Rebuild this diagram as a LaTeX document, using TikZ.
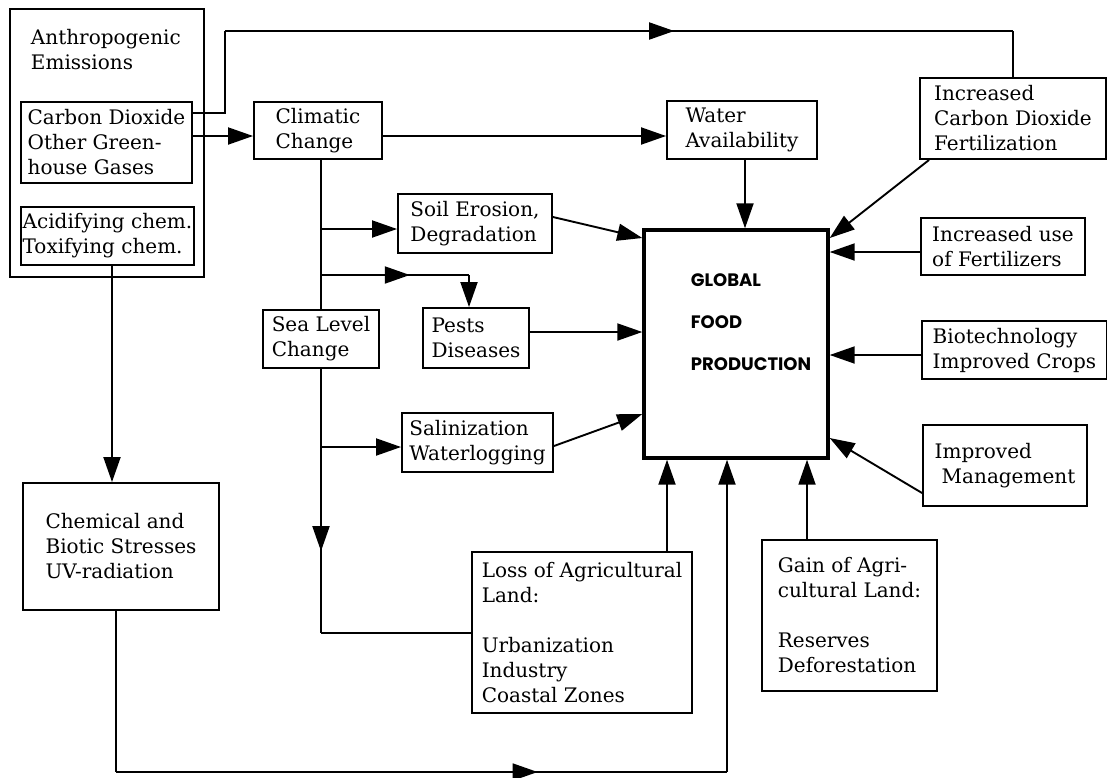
\documentclass[tikz,border=0pt]{standalone}
\usepackage{fontspec}
\setmainfont{DejaVu Serif}
\setsansfont{Poppins}
\usetikzlibrary{arrows.meta,positioning,decorations.markings}

\begin{document}
\begin{tikzpicture}[x=0.5pt,y=-0.5pt,line width=0.95pt,
    font=\fontsize{10}{12.5}\selectfont]
    \tikzset{BoxStyle/.style = {draw,rectangle,align=left,inner sep=2pt}}
    \tikzset{ArrowStyle/.style = {-{Triangle[length=12.5pt,width=8.5pt]}}}
    \tikzset{MidArrowStyle/.style = {postaction={decorate},
        decoration={markings,mark=at position #1 with {\arrow{Triangle[length=12.5pt,width=8.5pt]}}}}}

    \useasboundingbox (0,0) rectangle (1107,777);

    % emissions block
    \node[BoxStyle,minimum width=97pt,minimum height=134pt] (anthro) at (107,143) {};
    \node[inner sep=0,align=left,anchor=north west,below right=10pt and 10.5pt of anthro.north west] (anthrotxt) {Anthropogenic\\Emissions};
    \node[BoxStyle,minimum width=85.5pt,minimum height=40.5pt] (co2) at (106.5,142.5) {Carbon Dioxide\\Other Green-\\house Gases};
    \node[BoxStyle,inner xsep=0.5pt,minimum width=86.5pt,minimum height=29pt] (acid) at (107.5,236) {Acidifying chem.\\Toxifying chem.};

    % climate branch
    \node[BoxStyle,minimum width=64pt,minimum height=28.5pt] (climatic) at (318,130.5) {Climatic\\Change};
    \node[BoxStyle,minimum width=75pt,minimum height=29pt] (water) at (742,130) {Water\\Availability};
    \node[BoxStyle,minimum width=77pt,minimum height=29.5pt] (soil) at (475,223.5) {Soil Erosion,\\Degradation};
    \node[BoxStyle,minimum width=53pt,minimum height=30pt] (pests) at (476,338) {Pests\\Diseases};
    \node[BoxStyle,minimum width=75.5pt,minimum height=29.5pt] (salin) at (477.5,442.5) {Salinization\\Waterlogging};
    \node[BoxStyle,minimum width=58pt,minimum height=29pt] (sealevel) at (321,339) {Sea Level\\Change};
    \node[BoxStyle,minimum width=98pt,minimum height=63.5pt] (chem) at (121,546.5) {Chemical and\\Biotic Stresses\\UV-radiation};
    \node[BoxStyle,minimum width=110pt,minimum height=80.5pt] (loss) at (582,632.5) {Loss of Agricultural\\Land:\\[12.5pt]Urbanization\\Industry\\Coastal Zones};

    % centre
    \node[BoxStyle,line width=1.7pt,minimum width=92pt,minimum height=114pt] (global) at (736,344) {};
    \node[align=left,font=\sffamily\bfseries\fontsize{9}{21}\selectfont] (gfp) at ([xshift=7.5pt,yshift=10.75pt]global.center) {GLOBAL\\FOOD\\PRODUCTION};

    % right side
    \node[BoxStyle,minimum width=93pt,minimum height=40.5pt] (incco2) at (1013,118.5) {Increased\\Carbon Dioxide\\Fertilization};
    \node[BoxStyle,minimum width=82pt,minimum height=28.5pt] (fert) at (1003,246.5) {Increased use\\of Fertilizers};
    \node[BoxStyle,minimum width=92.5pt,minimum height=29pt] (biotech) at (1014.5,350) {Biotechnology\\Improved Crops};
    \node[BoxStyle,minimum width=82pt,minimum height=40.5pt] (mgmt) at (1005,465.5) {Improved\\\hspace*{3.5pt}Management};
    \node[BoxStyle,minimum width=87.5pt,minimum height=75.5pt] (gain) at (849.5,615.5) {Gain of Agri-\\cultural Land:\\[12.5pt]Reserves\\Deforestation};

    % corner points
    \coordinate (t1) at (225,113);
    \coordinate (t2) at (225,31);
    \coordinate (b1) at (321,229);
    \coordinate (b2) at (321,275);
    \coordinate (b3) at (321,447);
    \coordinate (b4) at (321,633);
    \coordinate (pd) at ([xshift=-3.5pt]pests.north);
    \coordinate (c1) at (116,772);
    \coordinate (c2) at (727,772);

    % connectors
    \draw[ArrowStyle] (co2.east |- 0,136) -- (climatic.west |- 0,136);
    \draw (co2.east |- t1) -- (t1) -- (t2);
    \draw[MidArrowStyle=0.57] (t2) -- (incco2.north |- t2);
    \draw (incco2.north |- t2) -- (incco2.north);
    \draw[ArrowStyle] (climatic.east |- 0,136) -- (water.west |- 0,136);
    \draw[ArrowStyle] (water.south -| 745,0) -- (global.north -| 745,0);
    \draw (sealevel.north |- climatic.south) -- (sealevel.north);
    \draw[ArrowStyle] (b1) -- (soil.west |- b1);
    \draw[MidArrowStyle=0.6] (b2) -- (b2 -| pd);
    \draw[ArrowStyle] (b2 -| pd) -- (pd);
    \draw[ArrowStyle] (b3) -- (salin.west |- b3);
    \draw[MidArrowStyle=0.69] (sealevel.south) -- (b4);
    \draw (b4) -- (loss.west |- b4);
    \draw[ArrowStyle] (loss.north -| 667,0) -- (global.south -| 667,0);
    \draw[ArrowStyle] (acid.south -| 112,0) -- (chem.north -| 112,0);
    \draw (chem.south -| c1) -- (c1);
    \draw[MidArrowStyle=0.69] (c1) -- (c2);
    \draw[ArrowStyle] (c2) -- (global.south -| c2);
    \draw[ArrowStyle] (gain.north -| 807,0) -- (global.south -| 807,0);
    \draw[ArrowStyle] ([xshift=5pt]incco2.south west) -- (global.east |- 0,238);
    \draw[ArrowStyle] (fert.west |- 0,252) -- (global.east |- 0,252);
    \draw[ArrowStyle] (biotech.west |- 0,355) -- (global.east |- 0,355);
    \draw[ArrowStyle] (mgmt.west |- 0,493) -- (global.east |- 0,438);
    \draw[ArrowStyle] (soil.east |- 0,217) -- (global.west |- 0,238);
    \draw[ArrowStyle] (pests.east |- 0,332) -- (global.west |- 0,332);
    \draw[ArrowStyle] (salin.east |- 0,446) -- (global.west |- 0,414);
\end{tikzpicture}
\end{document}
